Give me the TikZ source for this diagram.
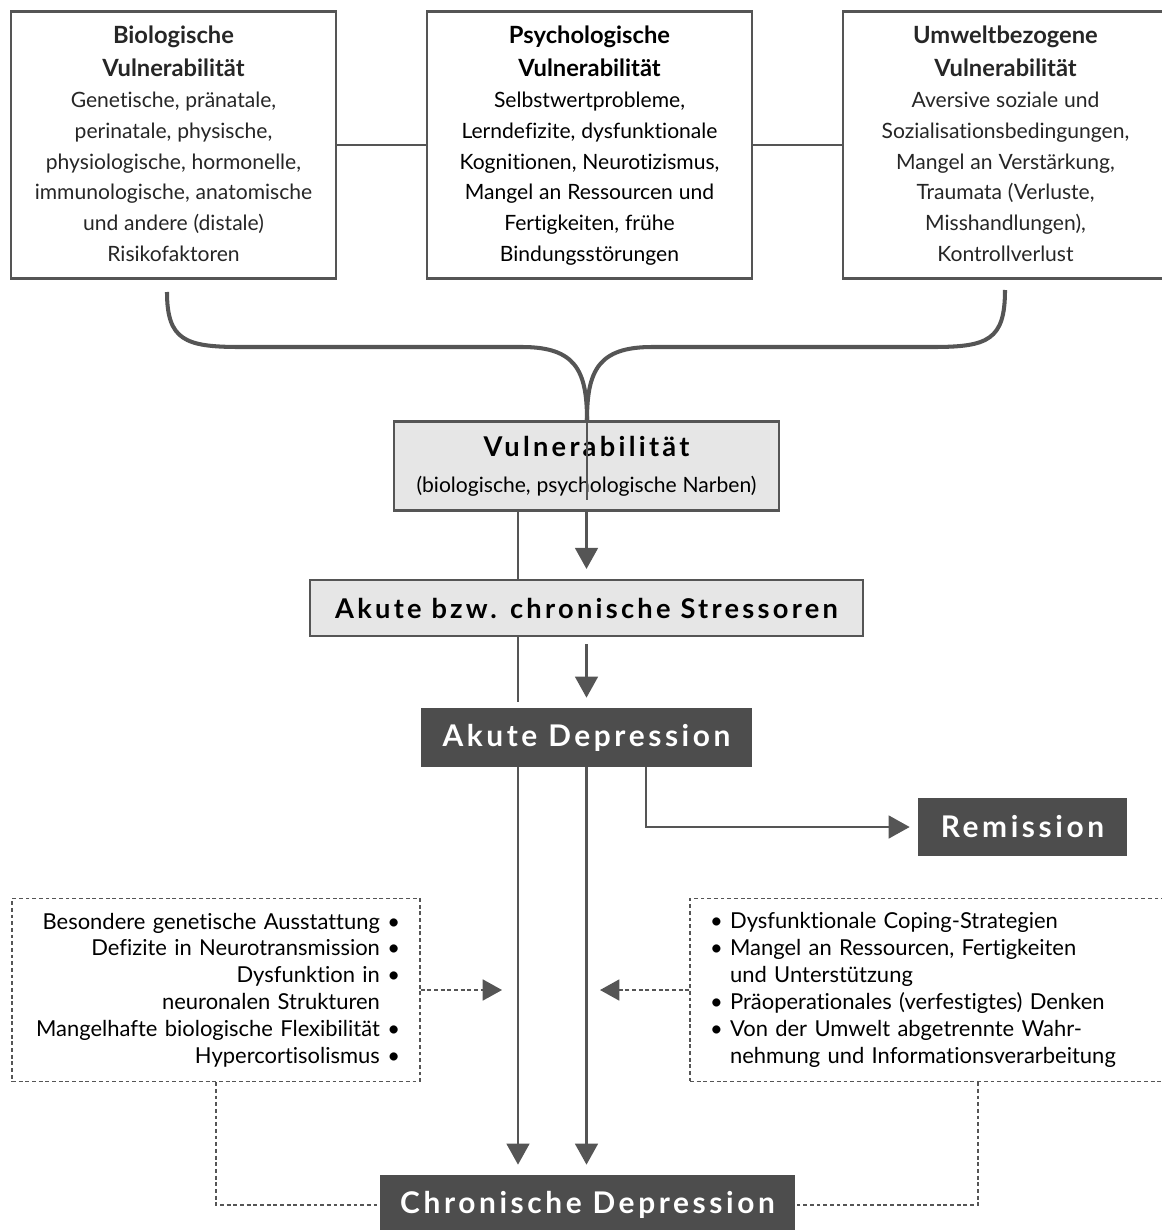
\documentclass[tikz,border=0pt]{standalone}
\usepackage{fontspec}
\setmainfont{Lato}[RawFeature=-liga]
\newfontfamily\spacedfont[LetterSpace=12]{Lato}
\usetikzlibrary{arrows.meta}
\definecolor{boxgray}{RGB}{77,77,77}
\definecolor{linegray}{RGB}{85,85,85}
\definecolor{fillgray}{RGB}{230,230,230}
\newcommand{\vultitle}{\fontsize{13.5}{19.3}\selectfont\bfseries}
\newcommand{\vulbody}{\fontsize{12}{17.5}\selectfont}

\begin{document}
\begin{tikzpicture}[x=0.02cm, y=-0.02cm,
  topbox/.style={draw=linegray, line width=1.2pt, minimum width=6.5cm, minimum height=5.34cm, text width=6.2cm, align=center, inner xsep=0.15cm, inner ysep=0pt, text=black!85},
  lightbox/.style={draw=linegray, fill=fillgray, line width=1.2pt, inner sep=0pt, align=center},
  darkbox/.style={fill=boxgray, text=white, inner sep=0pt, font=\spacedfont\fontsize{17}{20}\selectfont\bfseries},
  dotbox/.style={draw=linegray, line width=0.8pt, dash pattern=on 2.2pt off 1.6pt, minimum height=3.66cm, inner ysep=0pt, inner xsep=0.4cm, font=\fontsize{12.5}{15.3}\selectfont},
  conn/.style={draw=linegray, line width=1.3pt},
  arr/.style={conn, -{Triangle[length=12pt, width=13pt]}},
  dotline/.style={draw=linegray, line width=0.8pt, dash pattern=on 2.2pt off 1.6pt},
  dotarr/.style={dotline, -{Triangle[length=11pt, width=12pt]}},
  brace/.style={draw=linegray, line width=2.3pt}]
\useasboundingbox (0,0) rectangle (1162,1230);
\clip (0,0) rectangle (1162,1230);

\node[topbox] (bio) at (173.5,145) {{\vultitle\strut Biologische\\ Vulnerabilität\par}{\vulbody Genetische, pränatale,\\ perinatale, physische,\\ physiologische, hormonelle,\\ immunologische, anatomische\\ und andere (distale)\\ Risikofaktoren\strut\par}};
\node[topbox, text=black] (psy) at (589.5,145) {{\vultitle\strut Psychologische\\ Vulnerabilität\par}{\vulbody Selbstwertprobleme,\\ Lerndefizite, dysfunktionale\\ Kognitionen, Neurotizismus,\\ Mangel an Ressourcen und\\ Fertigkeiten, frühe\\ Bindungsstörungen\strut\par}};
\node[topbox] (umw) at (1005.5,145) {{\vultitle\strut Umweltbezogene\\ Vulnerabilität\par}{\vulbody Aversive soziale und\\ Sozialisationsbedingungen,\\ Mangel an Verstärkung,\\ Traumata (Verluste,\\ Misshandlungen),\\ Kontrollverlust\strut\par}};
\draw[conn] (bio.east) -- (psy.west);
\draw[conn] (psy.east) -- (umw.west);

\coordinate (braceL) at (167,292);
\coordinate (braceR) at (1005,290);
\coordinate (join) at (587,420);
\draw[brace] (braceL) .. controls (167,340) and (185,347) .. (240,347) -- (522,347) .. controls (575,347) and (587,370) .. (join);
\draw[brace] (braceR) .. controls (1005,340) and (988,347) .. (933,347) -- (652,347) .. controls (599,347) and (587,370) .. (join);

\node[lightbox, minimum width=7.7cm, minimum height=1.78cm, text width=7.7cm] (vul) at (586.5,466) {{\spacedfont\fontsize{15.5}{18}\selectfont\bfseries Vulnerabilität\par}{\fontsize{12}{20.4}\selectfont (biologische, psychologische Narben)\par}};
\coordinate (vulin) at (587,500);
\draw[conn, line width=1pt] (join) -- (vulin);

\node[lightbox, minimum width=11.06cm, minimum height=1.12cm, font=\spacedfont\fontsize{15.5}{18}\selectfont\bfseries] (stress) at (586.5,608) {Akute bzw. chronische Stressoren};
\node[darkbox, minimum width=6.64cm, minimum height=1.18cm] (akute) at (586.5,737.5) {Akute Depression};
\node[darkbox, minimum width=4.18cm, minimum height=1.16cm] (remis) at (1022.5,827) {Remission};
\node[darkbox, minimum width=8.3cm, minimum height=1.2cm] (chron) at (587.5,1205) {Chronische Depression};

\node[dotbox, text width=7.36cm, align=right] (lbox) at (216,990) {Besondere genetische Ausstattung \textbullet\\ Defizite in Neurotransmission \textbullet\\ Dysfunktion in \textbullet\\ neuronalen Strukturen\phantom{ \textbullet}\\ Mangelhafte biologische Flexibilität \textbullet\\ Hypercortisolismus \textbullet};
\node[dotbox, text width=9.2cm, align=left] (rbox) at (940,990) {\textbullet\ Dysfunktionale Coping-Strategien\\ \textbullet\ Mangel an Ressourcen, Fertigkeiten\\ \phantom{\textbullet\ }und Unterstützung\\ \textbullet\ Präoperationales (verfestigtes) Denken\\ \textbullet\ Von der Umwelt abgetrennte Wahr-\\ \phantom{\textbullet\ }nehmung und Informationsverarbeitung};

\coordinate (lx) at (518,0);
\coordinate (rx) at (646,0);
\coordinate (ltip) at (502,990);
\coordinate (rtip) at (600,990);
\coordinate (lfoot) at (216,0);
\coordinate (rfoot) at (978,0);

\draw[conn] (vul.south -| lx) -- (stress.north -| lx);
\draw[conn, shorten >=3pt] (stress.south -| lx) -- (akute.north -| lx);
\draw[arr, shorten >=0.2cm] (vul) -- (stress);
\draw[arr, shorten <=0.14cm, shorten >=0.2cm] (stress) -- (akute);
\draw[arr, shorten >=0.2cm] (akute.south -| lx) -- (chron.north -| lx);
\draw[arr, shorten >=0.2cm] (akute.south) -- (chron.north -| akute.south);
\draw[arr, shorten >=0.16cm] (akute.south -| rx) |- (remis.west);

\draw[dotarr] (lbox.east) -- (ltip);
\draw[dotarr] (rbox.west) -- (rtip);
\draw[dotline] (lbox.south -| lfoot) |- (chron.west);
\draw[dotline] (rbox.south -| rfoot) |- (chron.east);
\end{tikzpicture}
\end{document}
